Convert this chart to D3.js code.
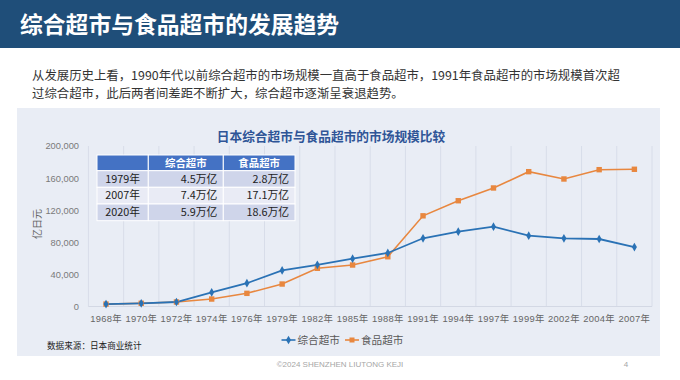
<!DOCTYPE html>
<html>
<head>
<meta charset="utf-8">
<script src="https://cdn.jsdelivr.net/npm/d3@7"></script>
<style>
html,body{margin:0;padding:0;background:#fff;}
svg{display:block;}
</style>
</head>
<body>
<svg id="c" width="680" height="380"></svg>
<script>
// ---- data ----
const years = ["1968年","1970年","1972年","1974年","1976年","1979年","1982年","1985年","1988年","1991年","1994年","1997年","1999年","2002年","2004年","2007年"];
const gmsValues = [3000, 4000, 5600, 17700, 29000, 45000, 52000, 59600, 66700, 85000, 93200, 99400, 88200, 85000, 84100, 74000];
const foodValues = [3000, 4000, 5600, 9300, 16400, 28000, 47600, 51700, 62000, 113000, 131800, 147700, 168000, 158900, 170500, 171000];
const seriesNames = ["综合超市", "食品超市"];
const yTicks = [0, 40000, 80000, 120000, 160000, 200000];
const tableHeader = ["", "综合超市", "食品超市"];
const tableYears = ["1979年", "2007年", "2020年"];
const tableGms = ["4.5万亿", "7.4万亿", "5.9万亿"];
const tableFood = ["2.8万亿", "17.1万亿", "18.6万亿"];

const CJK = "'Noto Sans CJK SC','Noto Sans',sans-serif";
const LAT = "'Liberation Sans','Noto Sans CJK SC',sans-serif";
const BLUE = "#2a72b5", ORANGE = "#e8873f";

const svg = d3.select("#c");

// header bar
svg.append("rect").attr("x",0).attr("y",0).attr("width",680).attr("height",48).attr("fill","#1f4e79");
svg.append("text").attr("x",20).attr("y",33).attr("fill","#fff").attr("font-family",CJK)
  .attr("font-size",22.8).attr("font-weight",700).text("综合超市与食品超市的发展趋势");

// paragraph
const para = ["从发展历史上看，1990年代以前综合超市的市场规模一直高于食品超市，1991年食品超市的市场规模首次超",
              "过综合超市，此后两者间差距不断扩大，综合超市逐渐呈衰退趋势。"];
para.forEach((t,i)=>{
  svg.append("text").attr("x",32).attr("y",80+i*18).attr("fill","#333").attr("font-family",CJK)
    .attr("font-size",12.4).text(t);
});

// panel
svg.append("rect").attr("x",17).attr("y",108).attr("width",643).attr("height",248).attr("fill","#e9edf5");

// chart title
svg.append("text").attr("x",331).attr("y",140.5).attr("text-anchor","middle").attr("fill","#2f5597")
  .attr("font-family",CJK).attr("font-size",12.7).attr("font-weight",700).text("日本综合超市与食品超市的市场规模比较");

// scales
const x = d3.scaleBand().domain(years).range([88.4, 652]).padding(0);
const y = d3.scaleLinear().domain([0, 200000]).range([306.5, 146]);
const cx = d => x(d) + x.bandwidth()/2;

// vertical gridlines at band edges
const edges = years.map(d=>x(d)).concat([x(years[years.length-1])+x.bandwidth()]);
svg.append("g").selectAll("line").data(edges).join("line")
  .attr("x1",d=>d).attr("x2",d=>d).attr("y1",y(200000)).attr("y2",y(0))
  .attr("stroke","#d8dde9").attr("stroke-width",1);
svg.append("line").attr("x1",88.4).attr("x2",652).attr("y1",y(0)).attr("y2",y(0))
  .attr("stroke","#d3d8e4").attr("stroke-width",1);

// y axis
const yAxis = d3.axisLeft(y).tickValues(yTicks).tickSize(0).tickPadding(0).tickFormat(d3.format(","));
const gy = svg.append("g").attr("transform","translate(79,0)").call(yAxis);
gy.select(".domain").remove();
gy.selectAll("text").attr("font-family",LAT).attr("font-size",9.3).attr("fill","#7a7a7a");

// x axis
const xAxis = d3.axisBottom(x).tickSize(0).tickPadding(0);
const gx = svg.append("g").attr("transform","translate(0,315.5)").call(xAxis);
gx.select(".domain").remove();
gx.selectAll("text").attr("font-family",LAT).attr("font-size",9.4).attr("fill","#666").attr("letter-spacing",0.3);

// y axis title
svg.append("text").attr("transform","translate(41,224) rotate(-90)").attr("text-anchor","middle")
  .attr("font-family",CJK).attr("font-size",10).attr("fill","#666").text("亿日元");

// lines
const line = d3.line().x((d,i)=>cx(years[i])).y(d=>y(d));
svg.append("path").datum(foodValues).attr("d",line).attr("fill","none").attr("stroke",ORANGE).attr("stroke-width",1.6);
svg.append("path").datum(gmsValues).attr("d",line).attr("fill","none").attr("stroke",BLUE).attr("stroke-width",1.8);

// markers
svg.append("g").selectAll("rect").data(foodValues).join("rect")
  .attr("x",(d,i)=>cx(years[i])-2.7).attr("y",d=>y(d)-2.7).attr("width",5.4).attr("height",5.4).attr("fill",ORANGE);
const diamond = d3.symbol().type(d3.symbolDiamond).size(22);
svg.append("g").selectAll("path").data(gmsValues).join("path")
  .attr("d",diamond).attr("transform",(d,i)=>`translate(${cx(years[i])},${y(d)})`).attr("fill",BLUE);

// table
const colX = [97, 148.3, 223.3, 295];
const rowY = [155, 170.7, 187.3, 204, 220.7];
const tbl = svg.append("g");
const rowFill = ["#4472c4", "#cfd5ea", "#e9ebf5", "#cfd5ea"];
const rows = [tableHeader].concat(tableYears.map((yr,i)=>[yr, tableGms[i], tableFood[i]]));
rows.forEach((r,ri)=>{
  r.forEach((cell,ci)=>{
    tbl.append("rect").attr("x",colX[ci]).attr("y",rowY[ri]).attr("width",colX[ci+1]-colX[ci]).attr("height",rowY[ri+1]-rowY[ri])
      .attr("fill",rowFill[ri]).attr("stroke","#fff").attr("stroke-width",1);
    const mid = (rowY[ri]+rowY[ri+1])/2;
    const t = tbl.append("text").attr("y",mid+3.8).attr("font-family",CJK).attr("font-size",ri===0?10.4:10.8).text(cell);
    if (ri===0){
      t.attr("x",(colX[ci]+colX[ci+1])/2).attr("text-anchor","middle").attr("fill","#fff").attr("font-weight",700);
    } else if (ci===0){
      t.attr("x",(colX[ci]+colX[ci+1])/2).attr("text-anchor","middle").attr("fill","#222");
    } else {
      t.attr("x",colX[ci+1]-6).attr("text-anchor","end").attr("fill","#222");
    }
  });
});

// legend
const leg = [{name:seriesNames[0], c:BLUE, x0:281.5, m:"d"},{name:seriesNames[1], c:ORANGE, x0:345, m:"s"}];
leg.forEach(l=>{
  svg.append("line").attr("x1",l.x0).attr("x2",l.x0+14).attr("y1",340).attr("y2",340).attr("stroke",l.c).attr("stroke-width",1.6);
  if (l.m==="d") svg.append("path").attr("d",diamond).attr("transform",`translate(${l.x0+7},340)`).attr("fill",l.c);
  else svg.append("rect").attr("x",l.x0+4.5).attr("y",337.5).attr("width",5).attr("height",5).attr("fill",l.c);
  svg.append("text").attr("x",l.x0+16).attr("y",344).attr("font-family",CJK).attr("font-size",10.6).attr("fill","#595959").text(l.name);
});

// source
svg.append("text").attr("x",47).attr("y",349).attr("font-family",CJK).attr("font-size",8.6).attr("fill","#222").text("数据来源：日本商业统计");

// footer
svg.append("text").attr("x",340).attr("y",367).attr("text-anchor","middle").attr("font-family",LAT).attr("font-size",8).attr("fill","#a6a6a6").text("©2024 SHENZHEN LIUTONG KEJI");
svg.append("text").attr("x",626).attr("y",367).attr("text-anchor","middle").attr("font-family",LAT).attr("font-size",8).attr("fill","#a6a6a6").text("4");
</script>
</body>
</html>
